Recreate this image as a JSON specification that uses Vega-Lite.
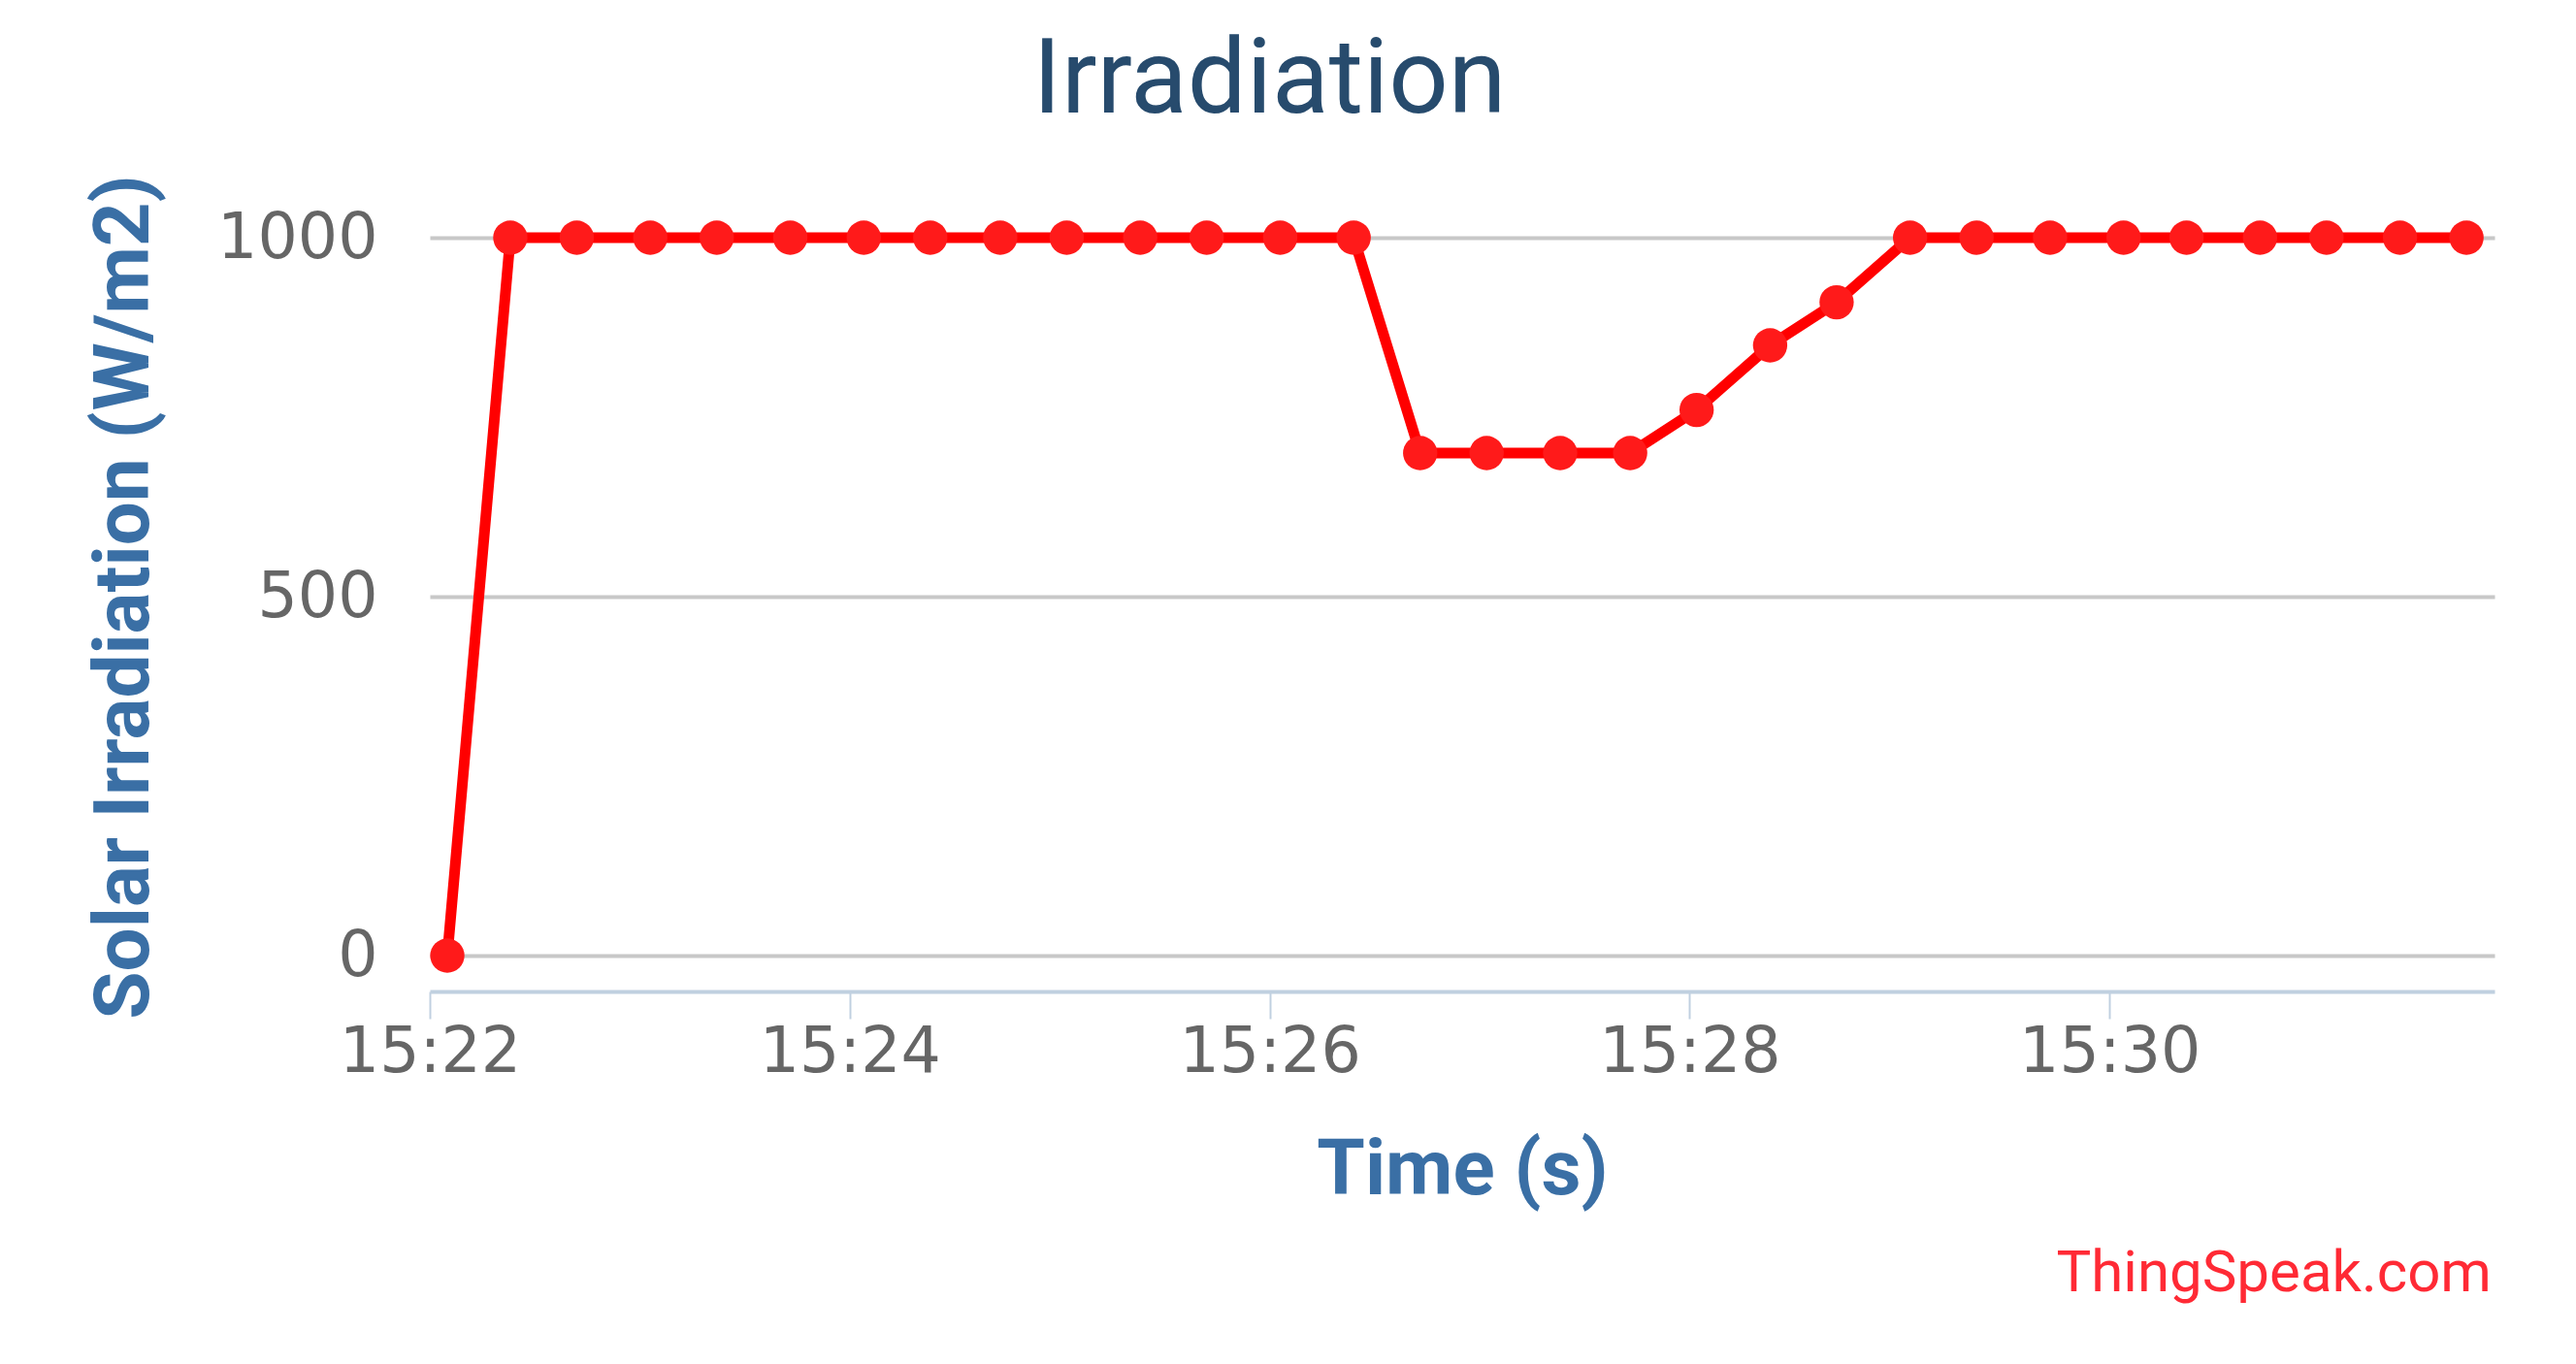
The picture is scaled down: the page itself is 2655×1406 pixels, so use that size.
{
  "$schema": "https://vega.github.io/schema/vega-lite/v6.json",
  "width": 2128,
  "height": 740,
  "autosize": {"type": "none"},
  "padding": {"left": 443, "top": 245, "right": 84, "bottom": 421},
  "background": "white",
  "config": {"view": {"stroke": null}},
  "title": {
    "text": "ThingSpeak.com",
    "orient": "bottom",
    "anchor": "end",
    "frame": "group",
    "font": "Roboto",
    "fontSize": 60,
    "fontWeight": "normal",
    "color": "#ff2a35",
    "baseline": "top",
    "offset": 38,
    "dx": -3
  },
  "data": {
    "values": [
      {"time": "2020-01-01T15:22:05", "irradiation": 0},
      {"time": "2020-01-01T15:22:23", "irradiation": 1000},
      {"time": "2020-01-01T15:22:42", "irradiation": 1000},
      {"time": "2020-01-01T15:23:03", "irradiation": 1000},
      {"time": "2020-01-01T15:23:22", "irradiation": 1000},
      {"time": "2020-01-01T15:23:43", "irradiation": 1000},
      {"time": "2020-01-01T15:24:04", "irradiation": 1000},
      {"time": "2020-01-01T15:24:23", "irradiation": 1000},
      {"time": "2020-01-01T15:24:43", "irradiation": 1000},
      {"time": "2020-01-01T15:25:02", "irradiation": 1000},
      {"time": "2020-01-01T15:25:23", "irradiation": 1000},
      {"time": "2020-01-01T15:25:42", "irradiation": 1000},
      {"time": "2020-01-01T15:26:03", "irradiation": 1000},
      {"time": "2020-01-01T15:26:24", "irradiation": 1000},
      {"time": "2020-01-01T15:26:43", "irradiation": 700},
      {"time": "2020-01-01T15:27:02", "irradiation": 700},
      {"time": "2020-01-01T15:27:23", "irradiation": 700},
      {"time": "2020-01-01T15:27:43", "irradiation": 700},
      {"time": "2020-01-01T15:28:02", "irradiation": 760},
      {"time": "2020-01-01T15:28:23", "irradiation": 850},
      {"time": "2020-01-01T15:28:42", "irradiation": 910},
      {"time": "2020-01-01T15:29:03", "irradiation": 1000},
      {"time": "2020-01-01T15:29:22", "irradiation": 1000},
      {"time": "2020-01-01T15:29:43", "irradiation": 1000},
      {"time": "2020-01-01T15:30:04", "irradiation": 1000},
      {"time": "2020-01-01T15:30:22", "irradiation": 1000},
      {"time": "2020-01-01T15:30:43", "irradiation": 1000},
      {"time": "2020-01-01T15:31:02", "irradiation": 1000},
      {"time": "2020-01-01T15:31:23", "irradiation": 1000},
      {"time": "2020-01-01T15:31:42", "irradiation": 1000}
    ]
  },
  "resolve": {"axis": {"x": "independent"}},
  "layer": [
    {
      "mark": {"type": "line", "color": "#ff0000", "strokeWidth": 11},
      "encoding": {
        "x": {
          "field": "time",
          "type": "temporal",
          "scale": {
            "domain": [
              {"year": 2020, "month": 1, "date": 1, "hours": 15, "minutes": 22, "seconds": 0},
              {"year": 2020, "month": 1, "date": 1, "hours": 15, "minutes": 31, "seconds": 50}
            ]
          },
          "axis": {
            "orient": "bottom",
            "title": "Time (s)",
            "format": "%H:%M",
            "values": [
              {"year": 2020, "month": 1, "date": 1, "hours": 15, "minutes": 22},
              {"year": 2020, "month": 1, "date": 1, "hours": 15, "minutes": 24},
              {"year": 2020, "month": 1, "date": 1, "hours": 15, "minutes": 26},
              {"year": 2020, "month": 1, "date": 1, "hours": 15, "minutes": 28},
              {"year": 2020, "month": 1, "date": 1, "hours": 15, "minutes": 30}
            ],
            "grid": false,
            "offset": 37,
            "domainColor": "#c0d0e0",
            "domainWidth": 4,
            "tickColor": "#c0d0e0",
            "tickWidth": 2,
            "tickSize": 28,
            "labelFont": "DejaVu Sans",
            "labelFontSize": 65,
            "labelColor": "#666666",
            "labelPadding": 3,
            "labelLimit": 0,
            "labelFlush": false,
            "labelOverlap": false,
            "titleFont": "Roboto",
            "titleFontSize": 80,
            "titleFontWeight": "bold",
            "titleColor": "#3a6fa5",
            "titlePadding": 50
          }
        },
        "y": {
          "field": "irradiation",
          "type": "quantitative",
          "scale": {"domain": [0, 1000], "nice": false, "zero": true},
          "axis": {
            "title": "Solar Irradiation (W/m2)",
            "values": [0, 500, 1000],
            "format": "d",
            "grid": true,
            "gridColor": "#c8c8c8",
            "gridWidth": 4,
            "domain": false,
            "ticks": false,
            "tickSize": 0,
            "labelFont": "DejaVu Sans",
            "labelFontSize": 65,
            "labelColor": "#666666",
            "labelPadding": 54,
            "labelLimit": 0,
            "labelOverlap": false,
            "titleFont": "Roboto",
            "titleFontSize": 80,
            "titleFontWeight": "bold",
            "titleColor": "#3a6fa5",
            "titlePadding": 74
          }
        }
      }
    },
    {
      "mark": {"type": "point", "filled": true, "size": 1250, "color": "#ff1a1a", "opacity": 1},
      "encoding": {
        "x": {
          "field": "time",
          "type": "temporal",
          "axis": {
            "orient": "top",
            "title": "Irradiation",
            "domain": false,
            "ticks": false,
            "labels": false,
            "grid": false,
            "minExtent": 0,
            "titleFont": "Roboto",
            "titleFontSize": 108,
            "titleFontWeight": "normal",
            "titleColor": "#274b6d",
            "titleBaseline": "alphabetic",
            "titleAlign": "center",
            "titleX": 865,
            "titlePadding": 130
          }
        },
        "y": {"field": "irradiation", "type": "quantitative"}
      }
    }
  ]
}
